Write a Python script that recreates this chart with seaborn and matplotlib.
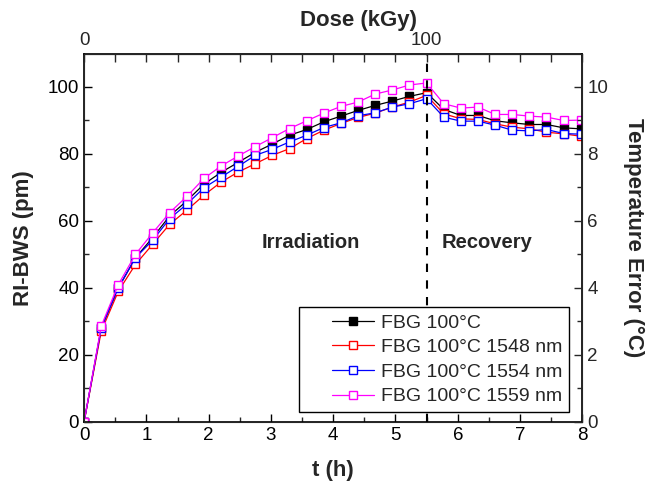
import numpy as np
import pandas as pd
import matplotlib
matplotlib.use("Agg")
import matplotlib.pyplot as plt
import seaborn as sns
from matplotlib.ticker import MultipleLocator, FixedLocator
from matplotlib.legend_handler import HandlerLine2D

# ---------------------------------
# datos (un punto por marcador)
# ---------------------------------
t_h = [0.0, 0.275, 0.55, 0.825, 1.1, 1.375, 1.65, 1.925, 2.2, 2.475,
       2.75, 3.025, 3.3, 3.575, 3.85, 4.125, 4.4, 4.675, 4.95, 5.225,
       5.5, 5.775, 6.05, 6.325, 6.6, 6.875, 7.15, 7.425, 7.7, 7.975]

fbg_100 = [0, 28, 40, 49, 55, 61.5, 66, 71, 74.5, 77.5,
           80.5, 83, 85.6, 87.3, 89.6, 91.3, 93, 94.5, 95.8, 97.2,
           98.3, 93.3, 91.5, 91.5, 89.9, 89.3, 88.8, 88.8, 87.8, 87.5]

fbg_1548 = [0, 27, 39, 47, 53, 59, 63.2, 67.7, 71.6, 74.6,
            77.1, 79.6, 81.6, 84.6, 87.1, 89.1, 90.9, 92.2, 94, 95.5,
            97.5, 92, 90.5, 90.3, 89, 88, 87.5, 86.5, 86, 85.3]

fbg_1554 = [0, 28, 40, 49, 54.2, 60.7, 65, 69.9, 73.1, 76.3,
            79.6, 81.4, 83.6, 85.6, 87.9, 89.3, 91.4, 92.3, 94, 95,
            96.5, 91, 89.8, 89.8, 88.6, 87.1, 86.9, 87.3, 86.1, 85.9]

fbg_1559 = [0, 28.6, 41, 50, 56.4, 62.5, 67.3, 72.7, 76.4, 79.4,
            82.2, 84.9, 87.6, 89.9, 92.2, 94.2, 95.5, 97.9, 99.1, 100.6,
            101.2, 95, 93.7, 94, 91.8, 91.8, 91.3, 91, 90, 90.1]

series_names = ["FBG 100°C", "FBG 100°C 1548 nm", "FBG 100°C 1554 nm", "FBG 100°C 1559 nm"]
series_values = [fbg_100, fbg_1548, fbg_1554, fbg_1559]
series_colors = ["black", "#ff0000", "#0000ff", "#ff00ff"]
series_faces = ["black", "white", "white", "white"]

t_fin_irradiacion = 5.5   # h, corresponde a 100 kGy
dosis_total = 100

# ---------------------------------
# estilo
# ---------------------------------
sns.set_style("ticks")
plt.rcParams["font.family"] = ["Liberation Sans", "DejaVu Sans"]
plt.rcParams["xtick.direction"] = "in"
plt.rcParams["ytick.direction"] = "in"

fig = plt.figure(figsize=(6.47, 4.91), dpi=100)
ax = fig.add_axes([0.130, 0.141, 0.770, 0.750])

for nombre, vals, col, cara in zip(series_names, series_values, series_colors, series_faces):
    df = pd.DataFrame({"t": t_h, "v": vals})
    sns.lineplot(data=df, x="t", y="v", ax=ax, color=col, marker="s",
                 markersize=6.3, markerfacecolor=cara, markeredgecolor=col,
                 markeredgewidth=1.0, linewidth=0.9, label=nombre,
                 estimator=None, sort=False)

ax.axvline(t_fin_irradiacion, color="black", linestyle=(0, (4, 4)), linewidth=1.5)

ax.set_xlim(0, 8)
ax.set_ylim(0, 110)
ax.xaxis.set_major_locator(MultipleLocator(1))
ax.xaxis.set_minor_locator(MultipleLocator(0.5))
ax.yaxis.set_major_locator(FixedLocator([0, 20, 40, 60, 80, 100]))
ax.yaxis.set_minor_locator(FixedLocator([10, 30, 50, 70, 90]))
ax.tick_params(which="major", length=6, width=1, labelsize=13.5, colors="black")
ax.tick_params(which="minor", length=3.5, width=1)
ax.set_xlabel("t (h)", fontsize=16, fontweight="bold", labelpad=12)
ax.set_ylabel("RI-BWS (pm)", fontsize=16, fontweight="bold", labelpad=10)
for s in ax.spines.values():
    s.set_linewidth(1.2)
    s.set_color("black")

ax.text(3.64, 53.6, "Irradiation", fontsize=14.5, fontweight="bold", ha="center", va="center")
ax.text(6.47, 53.6, "Recovery", fontsize=14.5, fontweight="bold", ha="center", va="center")

# eje derecho: error de temperatura
ax_r = ax.twinx()
ax_r.set_ylim(0, 11)
ax_r.yaxis.set_major_locator(FixedLocator([0, 2, 4, 6, 8, 10]))
ax_r.yaxis.set_minor_locator(FixedLocator([1, 3, 5, 7, 9]))
ax_r.tick_params(which="major", length=6, width=1, labelsize=13.5, direction="in")
ax_r.tick_params(which="minor", length=3.5, width=1, direction="in")
ax_r.set_ylabel("Temperature Error (°C)", fontsize=16, fontweight="bold",
                rotation=270, labelpad=26)

# eje superior: dosis
ax_d = ax.secondary_xaxis("top", functions=(lambda t: t * dosis_total / t_fin_irradiacion,
                                            lambda d: d * t_fin_irradiacion / dosis_total))
ax_d.xaxis.set_major_locator(FixedLocator([0, dosis_total]))
ax_d.xaxis.set_minor_locator(FixedLocator(np.arange(0, 8.01, 0.5) * dosis_total / t_fin_irradiacion))
ax_d.tick_params(which="major", length=6, width=1, labelsize=13.5, direction="in", pad=3)
ax_d.tick_params(which="minor", length=6, width=1, direction="in")
ax_d.set_xlabel("Dose (kGy)", fontsize=16, fontweight="bold")
ax_d.xaxis.set_label_coords(0.55, 1.09, transform=ax.transAxes)
ax_d.xaxis.label.set_va("center")

# leyenda con margen izquierdo amplio como en el original
fs_leg = 14
leg = ax.legend(loc="lower right", bbox_to_anchor=(0.974, 0.026), borderaxespad=0,
                fontsize=fs_leg, frameon=True, fancybox=False, framealpha=1,
                edgecolor="black", handlelength=3.5, handletextpad=0.35,
                borderpad=0.35, labelspacing=0.36,
                handler_map={matplotlib.lines.Line2D: HandlerLine2D(xpad=1.3)})
leg.get_frame().set_linewidth(1.0)

fig.savefig("out.png", dpi=100)
